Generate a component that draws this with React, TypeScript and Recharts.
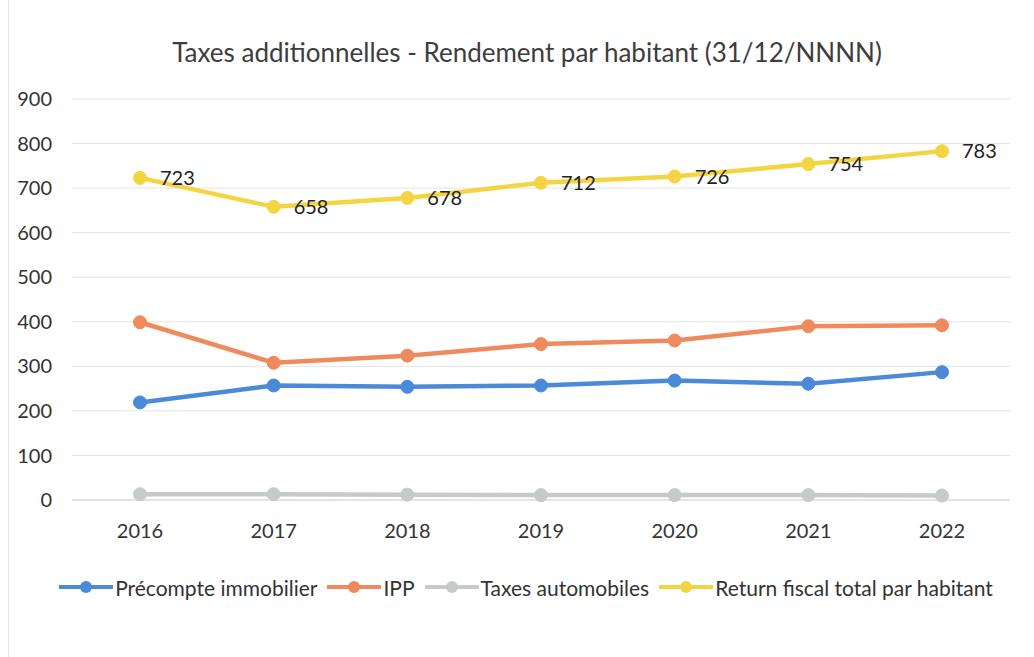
import React from 'react';
import { LineChart, Line, XAxis, YAxis, CartesianGrid, Legend, LabelList } from 'recharts';

const years = ['2016', '2017', '2018', '2019', '2020', '2021', '2022'];
const precompte = [219, 257, 254, 257, 268, 261, 287];
const ipp = [399, 308, 324, 350, 358, 390, 392];
const taxesAuto = [13, 13, 12, 11, 11, 11, 10];
const returnFiscal = [723, 658, 678, 712, 726, 754, 783];
const yTicks = [0, 100, 200, 300, 400, 500, 600, 700, 800, 900];

const FONT = 'Lato, "Open Sans", sans-serif';
const TEXT = '#333333';

const data = years.map((year, i) => ({
  year,
  precompte: precompte[i],
  ipp: ipp[i],
  taxesAuto: taxesAuto[i],
  returnFiscal: returnFiscal[i],
}));

const series = [
  { key: 'precompte', name: 'Précompte immobilier', color: '#4b8ad8' },
  { key: 'ipp', name: 'IPP', color: '#ef8a5c' },
  { key: 'taxesAuto', name: 'Taxes automobiles', color: '#c6cac8' },
  { key: 'returnFiscal', name: 'Return fiscal total par habitant', color: '#f5d443' },
];

const LegendContent = () => (
  <div style={{ display: 'flex', justifyContent: 'center', height: 26, alignItems: 'center', fontFamily: FONT, fontSize: 21, color: TEXT }}>
    {series.map((s) => (
      <div key={s.key} style={{ display: 'flex', alignItems: 'center', marginRight: 10 }}>
        <svg width={54} height={14} style={{ marginRight: 2 }}>
          <line x1={0} y1={7} x2={54} y2={7} stroke={s.color} strokeWidth={4} />
          <circle cx={27} cy={7} r={6} fill={s.color} />
        </svg>
        <span>{s.name}</span>
      </div>
    ))}
  </div>
);

const App = () => {
  return (
    <div style={{ position: 'absolute', left: 0, top: 0, width: 1034, height: 657, background: '#fff' }}>
      <div style={{ position: 'absolute', left: 8, top: 0, width: 0, height: 657, borderLeft: '1px solid #e4e4e4' }} />
      <div
        style={{
          position: 'absolute',
          top: 36,
          left: 0,
          width: 1054,
          textAlign: 'center',
          fontFamily: FONT,
          fontSize: 26,
          color: '#3d3d3d',
        }}
      >
        Taxes additionnelles - Rendement par habitant (31/12/NNNN)
      </div>
      <LineChart width={1034} height={657} data={data} margin={{ top: 99, right: 24, left: 0, bottom: 57 }}>
        <CartesianGrid vertical={false} stroke="#e3e3e3" />
        <XAxis
          dataKey="year"
          padding={{ left: 68, right: 68 }}
          height={74}
          tickSize={0}
          tickMargin={24}
          axisLine={{ stroke: '#d6d6d6' }}
          tick={{ fontFamily: FONT, fontSize: 20, fill: TEXT }}
        />
        <YAxis
          domain={[0, 900]}
          ticks={yTicks}
          width={72}
          tickSize={0}
          tickMargin={20}
          axisLine={false}
          tick={{ fontFamily: FONT, fontSize: 20, fill: TEXT }}
        />
        <Legend verticalAlign="bottom" content={<LegendContent />} wrapperStyle={{ paddingLeft: 26 }} />
        {series.map((s) => (
          <Line
            key={s.key}
            dataKey={s.key}
            name={s.name}
            stroke={s.color}
            strokeWidth={4.5}
            dot={{ r: 6.5, fill: s.color, stroke: s.color, strokeWidth: 1 }}
            activeDot={false}
            isAnimationActive={false}
          >
            {s.key === 'returnFiscal' && (
              <LabelList
                dataKey={s.key}
                position="right"
                offset={20}
                style={{ fontFamily: FONT, fontSize: 20, fill: '#222' }}
              />
            )}
          </Line>
        ))}
      </LineChart>
    </div>
  );
};

export default App;
